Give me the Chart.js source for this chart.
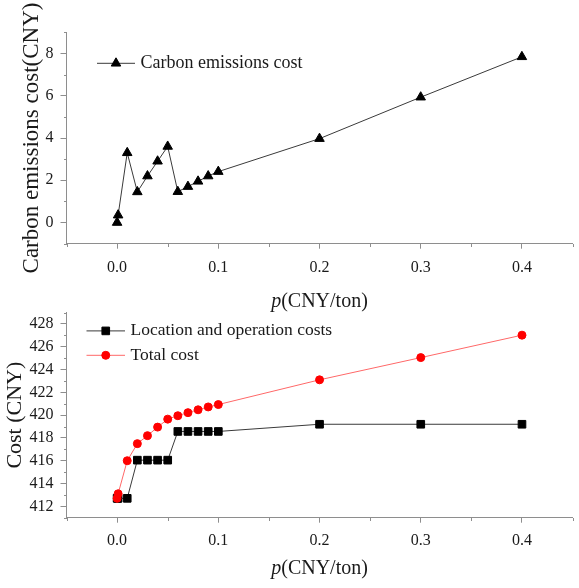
<!DOCTYPE html>
<html>
<head>
<meta charset="utf-8">
<title>Carbon price sensitivity</title>
<script src="https://cdn.jsdelivr.net/npm/chart.js@4/dist/chart.umd.min.js"></script>
<style>
  html, body { margin: 0; padding: 0; background: #fff; }
  #wrap { position: relative; width: 579px; height: 588px; overflow: hidden; }
  canvas { position: absolute; left: 0; }
</style>
</head>
<body>
<div id="wrap">
  <canvas id="emissions" width="579" height="316" style="top:0px"></canvas>
  <canvas id="costs" width="579" height="292" style="top:296px"></canvas>
</div>
<script>
// Carbon price p (CNY/ton)
const pValues = [0, 0.001, 0.01, 0.02, 0.03, 0.04, 0.05, 0.06, 0.07, 0.08, 0.09, 0.1, 0.2, 0.3, 0.4];

// Costs (CNY)
const carbonCost = [0, 0.35, 3.3, 1.45, 2.2, 2.9, 3.6, 1.46, 1.7, 1.95, 2.2, 2.41, 3.97, 5.93, 7.84];
const locationOperationCost = [412.7, 412.7, 412.7, 416.05, 416.05, 416.05, 416.05, 418.57, 418.57, 418.57, 418.57, 418.57, 419.2, 419.2, 419.2];
const totalCost = [412.7, 413.1, 416.0, 417.5, 418.2, 418.95, 419.65, 419.95, 420.22, 420.47, 420.72, 420.93, 423.1, 425.05, 427.02];

// Axis ticks
const pTicks = [0, 0.1, 0.2, 0.3, 0.4];
const pTickLabels = ['0.0', '0.1', '0.2', '0.3', '0.4'];
const pMinorTicks = [-0.05, 0.05, 0.15, 0.25, 0.35, 0.45];
const carbonTicks = [0, 2, 4, 6, 8];
const carbonMinorTicks = [-1, 1, 3, 5, 7, 9];
const costTicks = [412, 414, 416, 418, 420, 422, 424, 426, 428];
const costMinorTicks = [411, 413, 415, 417, 419, 421, 423, 425, 427, 429];

const SERIF = '"Liberation Serif", "Times New Roman", serif';
const AXIS = '#8e8e8e';
const TEXT = '#1a1a1a';

Chart.defaults.font.family = SERIF;
Chart.defaults.color = TEXT;

const toPoints = ys => pValues.map((p, i) => ({ x: p, y: ys[i] }));

// Short unlabelled ticks between the labelled ones
const minorTicks = {
  id: 'minorTicks',
  afterDraw(chart, args, opts) {
    const { ctx, chartArea, scales } = chart;
    ctx.save();
    ctx.strokeStyle = AXIS;
    ctx.lineWidth = 1;
    ctx.beginPath();
    opts.x.forEach(v => {
      const px = Math.round(scales.x.getPixelForValue(v)) + 0.5;
      ctx.moveTo(px, Math.round(chartArea.bottom));
      ctx.lineTo(px, Math.round(chartArea.bottom) + opts.length);
    });
    opts.y.forEach(v => {
      const py = Math.round(scales.y.getPixelForValue(v)) + 0.5;
      ctx.moveTo(Math.round(chartArea.left), py);
      ctx.lineTo(Math.round(chartArea.left) - opts.length, py);
    });
    ctx.stroke();
    ctx.restore();
  }
};

// Legend drawn inside the plot: line segment, marker, label
const inlineLegend = {
  id: 'inlineLegend',
  afterDraw(chart, args, opts) {
    const { ctx, chartArea } = chart;
    opts.items.forEach(item => {
      const ds = chart.data.datasets[item.dataset];
      const y = chartArea.top + item.dy;
      const x0 = chartArea.left + opts.lineStart;
      const x1 = chartArea.left + opts.lineEnd;
      ctx.save();
      ctx.strokeStyle = ds.borderColor;
      ctx.lineWidth = ds.borderWidth;
      ctx.beginPath();
      ctx.moveTo(x0, y);
      ctx.lineTo(x1, y);
      ctx.stroke();
      ctx.fillStyle = ds.pointBackgroundColor;
      ctx.strokeStyle = ds.pointBorderColor;
      ctx.lineWidth = ds.pointBorderWidth;
      Chart.helpers.drawPoint(ctx, {
        pointStyle: ds.pointStyle,
        radius: ds.pointRadius,
        rotation: 0,
        borderWidth: ds.pointBorderWidth
      }, (x0 + x1) / 2, y);
      ctx.fillStyle = TEXT;
      ctx.font = opts.fontSize + 'px ' + SERIF;
      ctx.textAlign = 'left';
      ctx.textBaseline = 'middle';
      ctx.fillText(ds.label, x1 + opts.gap, y);
      ctx.restore();
    });
  }
};

// x-axis title with an italic variable name: p(CNY/ton)
const pAxisTitle = {
  id: 'pAxisTitle',
  afterDraw(chart, args, opts) {
    const { ctx, chartArea } = chart;
    const italic = 'italic ' + opts.fontSize + 'px ' + SERIF;
    const upright = opts.fontSize + 'px ' + SERIF;
    ctx.save();
    ctx.font = italic;
    const w1 = ctx.measureText('p').width;
    ctx.font = upright;
    const w2 = ctx.measureText('(CNY/ton)').width;
    const x = (chartArea.left + chartArea.right) / 2 - (w1 + w2) / 2;
    const y = chartArea.bottom + opts.offset;
    ctx.fillStyle = TEXT;
    ctx.textAlign = 'left';
    ctx.textBaseline = 'alphabetic';
    ctx.font = italic;
    ctx.fillText('p', x, y);
    ctx.font = upright;
    ctx.fillText('(CNY/ton)', x + w1, y);
    ctx.restore();
  }
};

function xScale(axisHeight, labelPadding) {
  return {
    type: 'linear',
    min: -0.05,
    max: 0.45,
    afterBuildTicks: s => { s.ticks = pTicks.map(v => ({ value: v })); },
    afterFit: s => { s.height = axisHeight; },
    ticks: {
      callback: (v, i) => pTickLabels[i],
      autoSkip: false,
      maxRotation: 0,
      padding: labelPadding,
      color: TEXT,
      font: { size: 16 }
    },
    grid: { drawOnChartArea: false, tickLength: 5, tickColor: AXIS },
    border: { color: AXIS, width: 1 }
  };
}

function yScale(min, max, ticks, title, titleSize, titlePad) {
  return {
    type: 'linear',
    min: min,
    max: max,
    afterBuildTicks: s => { s.ticks = ticks.map(v => ({ value: v })); },
    afterFit: s => { s.width = 66.5; },
    ticks: {
      callback: v => String(v),
      autoSkip: false,
      padding: 7,
      color: TEXT,
      font: { size: 16 }
    },
    grid: { drawOnChartArea: false, tickLength: 6, tickColor: AXIS },
    border: { color: AXIS, width: 1 },
    title: {
      display: true,
      text: title,
      color: TEXT,
      font: { size: titleSize },
      padding: { top: titlePad, bottom: 0 }
    }
  };
}

const common = {
  responsive: false,
  animation: false,
  devicePixelRatio: 1,
  events: []
};

// Upper panel: carbon emissions cost
new Chart(document.getElementById('emissions'), {
  type: 'line',
  data: {
    datasets: [{
      label: 'Carbon emissions cost',
      data: toPoints(carbonCost),
      borderColor: '#3a3a3a',
      borderWidth: 1,
      pointStyle: 'triangle',
      pointRadius: 5.5,
      pointBackgroundColor: '#000',
      pointBorderColor: '#000',
      pointBorderWidth: 1,
      tension: 0
    }]
  },
  options: Object.assign({}, common, {
    layout: { padding: { top: 32.3, right: 1, left: 0, bottom: 0 } },
    scales: {
      x: xScale(72.3, 9),
      y: yScale(-1, 9, carbonTicks, 'Carbon emissions cost(CNY)', 23, 18.5)
    },
    plugins: {
      legend: { display: false },
      tooltip: { enabled: false },
      minorTicks: { x: pMinorTicks, y: carbonMinorTicks, length: 3 },
      inlineLegend: {
        lineStart: 30.5, lineEnd: 68.5, gap: 5.5, fontSize: 18,
        items: [{ dataset: 0, dy: 31 }]
      },
      pAxisTitle: { offset: 63, fontSize: 20 }
    }
  }),
  plugins: [minorTicks, inlineLegend, pAxisTitle]
});

// Lower panel: location/operation cost and total cost
new Chart(document.getElementById('costs'), {
  type: 'line',
  data: {
    datasets: [{
      label: 'Location and operation costs',
      data: toPoints(locationOperationCost),
      borderColor: '#3a3a3a',
      borderWidth: 1,
      pointStyle: 'rect',
      pointRadius: 5.4,
      pointBackgroundColor: '#000',
      pointBorderColor: '#000',
      pointBorderWidth: 1,
      tension: 0,
      order: 1
    }, {
      label: 'Total cost',
      data: toPoints(totalCost),
      borderColor: '#ff6868',
      borderWidth: 1,
      pointStyle: 'circle',
      pointRadius: 4,
      pointBackgroundColor: '#ff0000',
      pointBorderColor: '#ff0000',
      pointBorderWidth: 1,
      tension: 0,
      order: 0
    }]
  },
  options: Object.assign({}, common, {
    layout: { padding: { top: 9, right: 1, left: 0, bottom: 0 } },
    scales: {
      x: xScale(70.3, 8),
      y: yScale(411, 429, costTicks, 'Cost (CNY)', 22, 2)
    },
    plugins: {
      legend: { display: false },
      tooltip: { enabled: false },
      minorTicks: { x: pMinorTicks, y: costMinorTicks, length: 3 },
      inlineLegend: {
        lineStart: 20, lineEnd: 58.5, gap: 5.5, fontSize: 17.5,
        items: [{ dataset: 0, dy: 18.3 }, { dataset: 1, dy: 42.7 }]
      },
      pAxisTitle: { offset: 56.6, fontSize: 20 }
    }
  }),
  plugins: [minorTicks, inlineLegend, pAxisTitle]
});
</script>
</body>
</html>
